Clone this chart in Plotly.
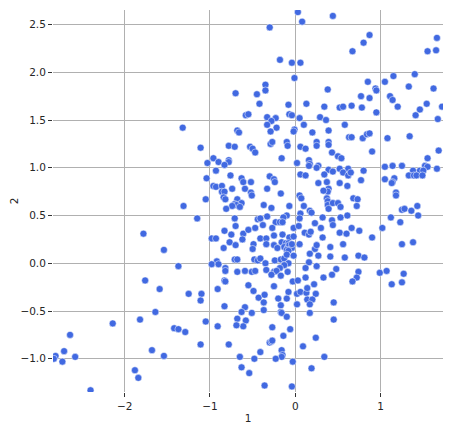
import plotly.graph_objects as go

x_vals = [
    -0.70, -1.32, -0.68, -0.66,
    0.03, 0.44, 0.08, -0.30, -0.18, -0.04, 0.06, -0.01, -0.35, -0.35, 0.38, -0.45, -0.42, 0.13, -0.08, 0.34,
    0.52, 0.56, -0.58, -0.55, -0.07, -0.04, -0.33, -0.23, 0.05, 0.29, 0.36, -0.28, -0.33, 0.10, 0.58, -0.22,
    -0.01, -0.02, 0.39, -0.29, 0.20,
    0.87, 0.80, 0.67, 1.66, 1.55, 1.65, 1.40, 1.15, 0.85, 1.05, 1.33, 0.94, 0.95, 1.62, 0.77, 1.11, 1.14, 0.87,
    1.54, 0.66, 0.78, 1.20, 1.72, 1.46, 1.41, 0.95, 1.67, 0.63, 0.66, 0.79, 0.84, 0.87, 1.08, 1.34,
    -1.11, -0.78, -0.71, -0.96, -1.03, -0.90, -0.78, -0.78, -0.83, -0.93, -1.04, -0.76, -0.63, -0.61, -0.96,
    -0.93, -0.86, -0.74, -0.59, -0.86, -0.83, -0.84, -0.82, -1.05, -0.68, -0.63, -0.71, -0.69, -0.65, -0.74,
    -0.81, -1.31, -1.15, -0.71, -0.70, -1.78, -0.83, -0.75, -0.61, -0.98, -0.93, -0.77, -0.70, -0.84, -0.62,
    -1.54, -0.71, -0.68, -0.92, -0.98, -0.90, -1.37, -0.82, -0.82, -0.68, -0.59,
    -0.53, -0.50, -0.47, -0.29, -0.27, -0.10, -0.09, 0.06, 0.12, 0.25, 0.25, 0.39, 0.39, 0.43, 0.50, 0.54,
    -0.16, 0.02, 0.16, 0.17, 0.16, 0.27, 0.25, 0.52, 0.39, -0.52, -0.30, -0.25, -0.24, 0.06, 0.12, 0.34, 0.44,
    0.27, 0.37, 0.52, 0.39, 0.38, 0.33, -0.52, -0.51, -0.33, -0.17, 0.05, 0.07, 0.37, 0.38, 0.38, 0.39, 0.44,
    0.50, 0.53, -0.37, -0.28, -0.07, 0.10, 0.17, 0.19, 0.06, -0.10, -0.33, -0.44, -0.41, -0.14, 0.05, 0.32,
    0.43, 0.44, 0.53, -0.23, -0.18, -0.15, -0.38, -0.02, 0.04, 0.23, -0.55, -0.47, -0.27, -0.15, 0.11, 0.16,
    0.18, 0.30, 0.52, -0.41, -0.34, -0.25, -0.07, -0.02, 0.32, -0.49, -0.50, -0.34, -0.25,
    -0.16, -0.11, -0.08, -0.13, -0.09, -0.07, -0.04, -0.10, -0.08, -0.04,
    -0.21, 0.05, 0.23, 0.25, 0.41, 0.56, -0.48, -0.44, -0.41, -0.35, -0.24, -0.17, -0.13, -0.10, -0.02, 0.17,
    0.27, 0.41, 0.16, -0.08, -0.13, -0.51, -0.47, -0.34, -0.25, -0.18, -0.22, 0.12, 0.25, 0.48,
    -0.28, -0.17, -0.09, 0.12, 0.33, 0.43, -0.55, -0.49, -0.25, -0.03, 0.03, 0.22, -0.43, -0.36, -0.37, -0.20,
    -0.10, -0.08, 0.02, 0.06, 0.13, 0.14, 0.24, 0.14, 0.20, 0.17, 0.02, -0.17, 0.45, -0.59, -0.63, -0.51,
    -0.37, -0.17, -0.16, -0.10, 0.17, -0.58, -0.61, 0.45, -0.27, -0.06, -0.14, 0.24, -0.30, -0.28, -0.27,
    0.09, -0.16, -0.41, -0.15, -0.16, -0.23, -0.65, -0.48, -0.03, 0.34, -0.63, 0.19, -0.54, -0.36, -0.04,
    -1.76, -1.59, -1.25, -1.10, -1.11, -0.91, -0.83, -0.82, -0.83, -1.64, -1.82, -0.68, -1.05, -0.91, -0.69,
    -1.42, -1.37, -1.29, -1.11, -0.78, -1.68, -1.54, -1.84,
    -2.14, -2.64, -2.71, -2.81, -2.83, -2.73, -2.58, -1.88, -2.40,
    0.90, 1.68, 1.55, 1.05, 1.14, 1.25, 1.52, 1.55, 1.38, 1.46, 1.50, 1.66, 1.33, 1.39, 1.42, 1.49, 0.62,
    0.56, 0.62, 0.65, 0.80, 1.05, 1.16, 1.14, 1.13, 0.77, 0.61, 1.18, 1.18, 0.68, 0.73, 0.72, 1.43, 1.25,
    1.28, 1.36, 1.44, 0.61, 1.12, 1.23, 1.02, 0.66, 0.75, 0.60, 0.90, 1.25, 1.38, 0.74, 0.81, 0.58, 0.74,
    0.99, 1.07, 1.27,
    0.72, 0.67, 1.13, 1.25,
]

y_vals = [
    1.78, 1.42, 1.39, 1.37,
    2.63, 2.59, 2.53, 2.47, 2.13, 2.10, 2.10, 1.94, 1.87, 1.81, 1.82, 1.77, 1.67, 1.67, 1.66, 1.64,
    1.63, 1.64, 1.55, 1.56, 1.56, 1.55, 1.53, 1.52, 1.52, 1.53, 1.50, 1.49, 1.45, 1.45, 1.45, 1.42,
    1.40, 1.38, 1.39, 1.38, 1.37,
    2.39, 2.31, 2.22, 2.36, 2.22, 2.23, 1.98, 1.96, 1.90, 1.90, 1.85, 1.83, 1.81, 1.83, 1.75, 1.75, 1.71, 1.73,
    1.67, 1.65, 1.63, 1.64, 1.64, 1.61, 1.55, 1.58, 1.51, 1.32, 1.32, 1.31, 1.35, 1.36, 1.31, 1.33,
    1.21, 1.23, 1.22, 1.10, 1.05, 1.06, 1.08, 1.06, 1.03, 0.97, 0.89, 0.92, 0.89, 0.85, 0.81,
    0.80, 0.81, 0.78, 0.78, 0.75, 0.75, 0.69, 0.67, 0.67, 0.67, 0.63, 0.62, 0.61, 0.59, 0.60,
    0.57, 0.60, 0.47, 0.47, 0.39, 0.31, 0.34, 0.30, 0.31, 0.26, 0.26, 0.22, 0.19, 0.16, 0.25,
    0.14, 0.04, 0.04, 0.02, -0.01, -0.01, -0.03, -0.05, -0.08, -0.09, -0.08,
    1.22, 1.20, 1.16, 1.25, 1.27, 1.27, 1.23, 1.22, 1.20, 1.27, 1.23, 1.27, 1.24, 1.16, 1.12, 1.10,
    1.10, 1.05, 1.08, 1.04, 1.02, 1.02, 1.00, 0.99, 0.98, 0.85, 0.91, 0.88, 0.85, 0.93, 0.92, 0.93, 0.96,
    0.84, 0.85, 0.84, 0.78, 0.75, 0.76, 0.74, 0.71, 0.78, 0.73, 0.71, 0.68, 0.68, 0.65, 0.61, 0.57, 0.63,
    0.63, 0.59, 0.61, 0.58, 0.60, 0.60, 0.55, 0.53, 0.52, 0.50, 0.49, 0.46, 0.47, 0.48, 0.47, 0.48,
    0.45, 0.40, 0.48, 0.43, 0.43, 0.43, 0.40, 0.37, 0.39, 0.42, 0.35, 0.37, 0.37, 0.30, 0.32, 0.30,
    0.33, 0.37, 0.32, 0.26, 0.26, 0.29, 0.27, 0.28, 0.27, 0.20, 0.15, 0.20, 0.19,
    0.22, 0.21, 0.21, 0.17, 0.16, 0.19, 0.16, 0.14, 0.13, 0.20,
    0.16, 0.20, 0.15, 0.19, 0.17, 0.20, 0.04, 0.03, 0.05, 0.00, 0.03, 0.04, 0.05, 0.09, 0.08, 0.10,
    0.08, 0.07, 0.01, 0.00, -0.02, -0.09, -0.08, -0.07, -0.09, -0.05, -0.08, -0.05, -0.03, -0.06,
    -0.12, -0.13, -0.09, -0.15, -0.15, -0.12, -0.23, -0.29, -0.24, -0.19, -0.18, -0.22, -0.36, -0.33, -0.41, -0.37,
    -0.37, -0.30, -0.32, -0.30, -0.31, -0.26, -0.32, -0.38, -0.38, -0.43, -0.43, -0.44, -0.41, -0.46, -0.51, -0.52,
    -0.49, -0.51, -0.52, -0.56, -0.52, -0.60, -0.66, -0.59, -0.67, -0.69, -0.76, -0.78, -0.83, -0.82, -0.81,
    -0.87, -0.91, -0.93, -0.96, -0.98, -1.00, -0.98, -1.00, -1.03, -0.98, -1.09, -1.10, -1.15, -1.28, -1.29,
    -0.18, -0.27, -0.32, -0.32, -0.39, -0.27, -0.18, -0.19, -0.45, -0.51, -0.59, -0.58, -0.61, -0.66, -0.65,
    -0.68, -0.69, -0.72, -0.85, -0.85, -0.91, -0.97, -1.20,
    -0.63, -0.75, -0.92, -0.97, -1.00, -1.03, -0.98, -1.12, -1.33,
    1.17, 1.18, 1.10, 1.01, 1.02, 1.02, 1.02, 1.01, 0.97, 0.97, 0.97, 0.99, 0.92, 0.92, 0.92, 0.92, 0.99,
    0.95, 0.92, 0.95, 0.97, 0.88, 0.89, 0.85, 0.84, 0.87, 0.81, 0.74, 0.71, 0.68, 0.67, 0.60, 0.60, 0.56,
    0.57, 0.55, 0.50, 0.50, 0.48, 0.43, 0.37, 0.37, 0.34, 0.31, 0.27, 0.20, 0.22, 0.08, 0.06, 0.06, -0.09,
    -0.10, -0.08, -0.11,
    -0.15, -0.19, -0.22, -0.20,
]

x_ticks = [-2, -1, 0, 1]
y_ticks = [-1.0, -0.5, 0.0, 0.5, 1.0, 1.5, 2.0, 2.5]

fig = go.Figure()
fig.add_trace(go.Scatter(
    x=x_vals, y=y_vals, mode="markers",
    marker=dict(size=7, color="royalblue", line=dict(width=0.5, color="white")),
    showlegend=False,
))

axis_common = dict(
    showgrid=True, gridcolor="#b0b0b0", gridwidth=1, zeroline=False,
    showline=False, ticks="outside", ticklen=4, tickwidth=1, tickcolor="#333333",
    tickfont=dict(family="DejaVu Sans", size=10.5, color="#262626"),
    automargin=False,
)

# the page body has an 8px default margin, so the layout margins compensate for it
fig.update_layout(
    template="none",
    width=453, height=429,
    margin=dict(l=45, r=18, t=2, b=45),
    paper_bgcolor="white", plot_bgcolor="white",
    font=dict(family="DejaVu Sans", size=10.5, color="#262626"),
    xaxis=dict(range=[-2.84, 1.731], tickvals=x_ticks,
               title=dict(text="1", standoff=4, font=dict(size=10.5)), **axis_common),
    yaxis=dict(range=[-1.348, 2.652], tickvals=y_ticks, tickformat=".1f",
               title=dict(text="2", standoff=6, font=dict(size=10.5)), **axis_common),
)

fig.write_html("out.html")
